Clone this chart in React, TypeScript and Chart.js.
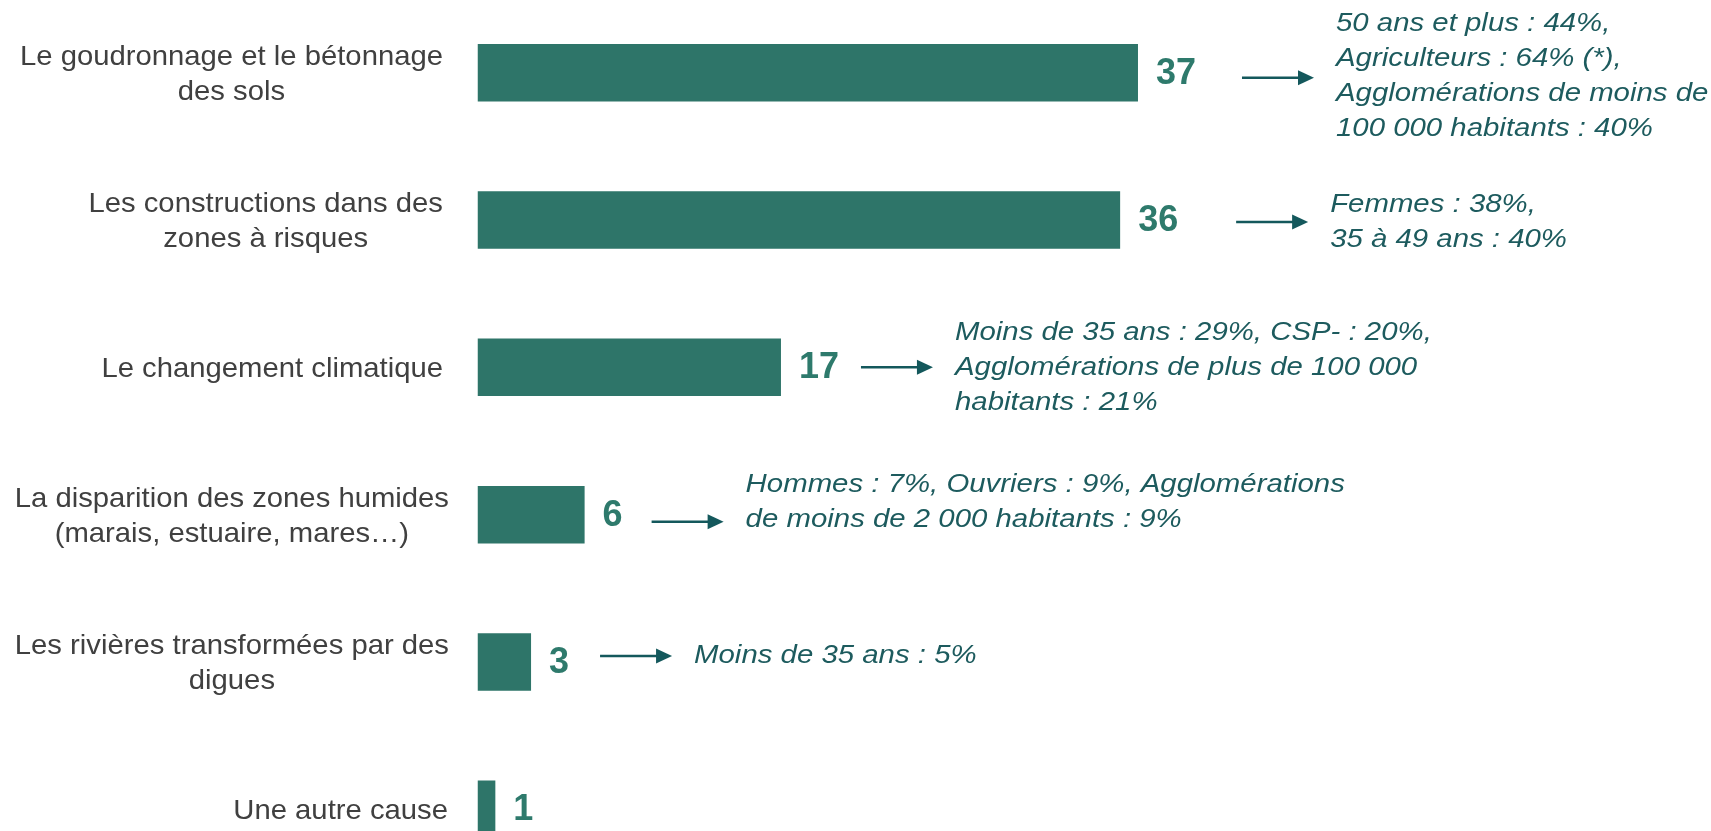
import React, { useEffect, useRef } from "react";
import { Chart, registerables } from "chart.js";

Chart.register(...registerables);

const categories: (string | string[])[] = [
  ["Le goudronnage et le bétonnage", "des sols"],
  ["Les constructions dans des", "zones à risques"],
  "Le changement climatique",
  ["La disparition des zones humides", "(marais, estuaire, mares…)"],
  ["Les rivières transformées par des", "digues"],
  "Une autre cause",
];

const values: number[] = [37, 36, 17, 6, 3, 1];

const notes: string[][] = [
  ["50 ans et plus : 44%,", "Agriculteurs : 64% (*),", "Agglomérations de moins de", "100 000 habitants : 40%"],
  ["Femmes : 38%,", "35 à 49 ans : 40%"],
  ["Moins de 35 ans : 29%, CSP- : 20%,", "Agglomérations de plus de 100 000", "habitants : 21%"],
  ["Hommes : 7%, Ouvriers : 9%, Agglomérations", "de moins de 2 000 habitants : 9%"],
  ["Moins de 35 ans : 5%"],
  [],
];

// annotation layout (pixels): label block right edge, arrow start offset from bar end, arrow dy, text block dy
const labelRight: number[] = [443, 443, 443, 449, 449, 448];
const arrowOffset: number[] = [104, 116, 80, 67, 69, 0];
const arrowDy: number[] = [5, 2, 0, 7, -6, 0];
const textDy: number[] = [4, 2, 0, -12.5, -6, 0];

const BAR_COLOR = "#2E7569";
const VALUE_COLOR = "#2E7A6C";
const NOTE_COLOR = "#1D5B5E";
const ARROW_COLOR = "#14585C";
const LABEL_COLOR = "#404040";

const annotationPlugin = {
  id: "annotations",
  afterDatasetsDraw(chart: any) {
    const ctx = chart.ctx as CanvasRenderingContext2D;
    const xs = chart.scales.x;
    const ys = chart.scales.y;
    ctx.save();
    values.forEach((v, i) => {
      const xEnd = xs.getPixelForValue(v);
      const yc = ys.getPixelForValue(i);

      // category label (right-aligned block, centered lines)
      const lab = Array.isArray(categories[i]) ? (categories[i] as string[]) : [categories[i] as string];
      const sx = 1.045;
      ctx.font = "28px 'Liberation Sans', Arial, sans-serif";
      const widths = lab.map((l) => ctx.measureText(l).width * sx);
      const blockW = Math.max(...widths);
      const centerX = labelRight[i] - blockW / 2;
      const lh = 34.5;
      ctx.fillStyle = LABEL_COLOR;
      ctx.textBaseline = "middle";
      ctx.textAlign = "center";
      lab.forEach((l, k) => {
        const ly = yc + 2 + (k - (lab.length - 1) / 2) * lh;
        ctx.save();
        ctx.translate(centerX, ly);
        ctx.scale(sx, 1);
        ctx.fillText(l, 0, 0);
        ctx.restore();
      });

      // value label
      ctx.font = "bold 36px 'Liberation Sans', Arial, sans-serif";
      ctx.fillStyle = VALUE_COLOR;
      ctx.textAlign = "left";
      ctx.textBaseline = "middle";
      ctx.fillText(String(v), xEnd + 18, yc + 1);

      // arrow + note
      const lines = notes[i];
      if (lines.length) {
        const ax0 = xEnd + arrowOffset[i];
        const ax1 = ax0 + 72;
        const ay = yc + arrowDy[i];
        const headL = 16;
        const headH = 15;
        ctx.strokeStyle = ARROW_COLOR;
        ctx.fillStyle = ARROW_COLOR;
        ctx.lineWidth = 2.5;
        ctx.beginPath();
        ctx.moveTo(ax0, ay);
        ctx.lineTo(ax1 - headL + 1, ay);
        ctx.stroke();
        ctx.beginPath();
        ctx.moveTo(ax1 - headL, ay - headH / 2);
        ctx.lineTo(ax1, ay);
        ctx.lineTo(ax1 - headL, ay + headH / 2);
        ctx.closePath();
        ctx.fill();

        const tx = ax1 + 22;
        const tyc = yc + textDy[i];
        const nlh = 35;
        ctx.font = "italic 26px 'Liberation Sans', Arial, sans-serif";
        ctx.fillStyle = NOTE_COLOR;
        ctx.textAlign = "left";
        ctx.textBaseline = "middle";
        lines.forEach((l, k) => {
          const ly = tyc + (k - (lines.length - 1) / 2) * nlh;
          ctx.save();
          ctx.translate(tx, ly);
          ctx.scale(1.13, 1);
          ctx.fillText(l, 0, 0);
          ctx.restore();
        });
      }
    });
    ctx.restore();
  },
};

export default function App() {
  const ref = useRef<HTMLCanvasElement | null>(null);
  useEffect(() => {
    document.body.style.margin = "0";
    const canvas = ref.current!;
    const chart = new Chart(canvas, {
      type: "bar",
      data: {
        labels: categories as any,
        datasets: [
          {
            data: values,
            backgroundColor: BAR_COLOR,
            borderWidth: 0,
            categoryPercentage: 0.39,
            barPercentage: 1,
          },
        ],
      },
      options: {
        indexAxis: "y",
        responsive: false,
        animation: false,
        events: [],
        layout: { padding: { left: 477.5, right: 0, top: 0, bottom: 0 } },
        plugins: {
          legend: { display: false },
          tooltip: { enabled: false },
          title: { display: false },
        },
        scales: {
          x: { display: false, min: 0, max: 69.1 },
          y: { display: false },
        },
      },
      plugins: [annotationPlugin],
    });
    return () => chart.destroy();
  }, []);

  return (
    <div
      style={{
        position: "fixed",
        left: 0,
        top: 0,
        width: 1711,
        height: 831,
        overflow: "hidden",
        background: "#ffffff",
      }}
    >
      <canvas
        ref={ref}
        width={1711}
        height={884}
        style={{ position: "absolute", left: 0, top: -1, width: 1711, height: 884 }}
      />
    </div>
  );
}
